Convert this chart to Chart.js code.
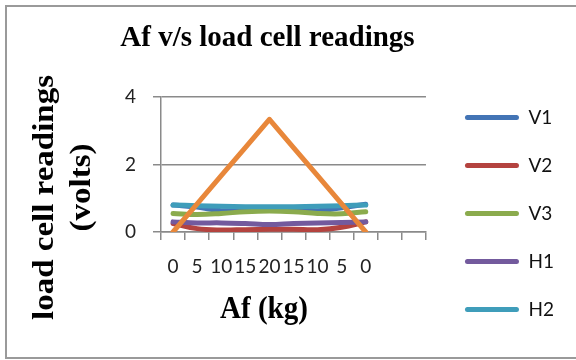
<!DOCTYPE html>
<html>
<head>
<meta charset="utf-8">
<script src="https://cdn.jsdelivr.net/npm/chart.js@4/dist/chart.umd.min.js"></script>
<style>
html,body{margin:0;padding:0;background:#fff;}
#wrap{width:576px;height:360px;position:relative;}
</style>
</head>
<body>
<div id="wrap"><canvas id="c" width="576" height="360"></canvas></div>
<script>
// ---- data ----
const categories = ["0", "5", "10", "15", "20", "15", "10", "5", "0", "", ""];
const seriesNames = ["V1", "V2", "V3", "H1", "H2", "H3"];
const V1 = [0.80, 0.74, 0.63, 0.66, 0.70, 0.68, 0.63, 0.72, 0.82];
const V2 = [0.25, 0.10, 0.06, 0.07, 0.08, 0.08, 0.07, 0.14, 0.30];
const V3 = [0.55, 0.52, 0.55, 0.60, 0.62, 0.60, 0.55, 0.54, 0.60];
const H1 = [0.30, 0.27, 0.27, 0.25, 0.22, 0.25, 0.27, 0.28, 0.30];
const H2 = [0.80, 0.78, 0.76, 0.75, 0.75, 0.75, 0.76, 0.78, 0.80];
const H3 = [0.00, 0.83, 1.67, 2.50, 3.34, 2.50, 1.67, 0.83, 0.00];
const yTicks = [0, 2, 4];
const chartTitle = "Af v/s load cell readings";
const xTitle = "Af (kg)";
const yTitleLines = ["load cell readings", "(volts)"];

// ---- styles ----
const colors = ["#4374b5", "#b4433f", "#8bab4d", "#735a9d", "#3f9dba", "#e8873a"];
const values = [V1, V2, V3, H1, H2, H3];
const tickFont = {family: "Lato", size: 19};
const gridColor = "#8a8a8a";

// later series are drawn on top (as in the original)
const datasets = values.map((v, i) => ({
  label: seriesNames[i],
  data: v,
  order: values.length - 1 - i,
  borderColor: colors[i],
  backgroundColor: colors[i],
  borderWidth: 5,
  pointRadius: 0,
  pointHoverRadius: 0,
  tension: i === 5 ? 0 : 0.4,
  borderCapStyle: "round",
  borderJoinStyle: "round",
  fill: false
}));

const decor = {
  id: "decor",
  beforeDraw(chart) {
    const ctx = chart.ctx;
    ctx.save();
    ctx.fillStyle = "#ffffff";
    ctx.fillRect(0, 0, chart.width, chart.height);
    ctx.strokeStyle = "#9a9a9a";
    ctx.lineWidth = 2;
    ctx.strokeRect(6, 6, chart.width + 20, chart.height - 8);
    ctx.restore();
  },
  afterDraw(chart) {
    const ctx = chart.ctx;
    ctx.save();
    ctx.fillStyle = "#000000";
    ctx.textAlign = "center";
    ctx.textBaseline = "alphabetic";
    // x title
    ctx.font = "bold 31px 'Liberation Serif'";
    const w = ctx.measureText(xTitle).width;
    ctx.save();
    ctx.translate(264, 318);
    ctx.scale(88 / w, 1);
    ctx.fillText(xTitle, 0, 0);
    ctx.restore();
    // y title (two lines)
    ctx.font = "bold 33px 'Liberation Serif'";
    const yPos = [{bx: 53, cy: 197.5}, {bx: 90, cy: 187.5}];
    yTitleLines.forEach((t, i) => {
      ctx.save();
      ctx.translate(yPos[i].bx, yPos[i].cy);
      ctx.rotate(-Math.PI / 2);
      ctx.scale(1, 0.88);
      ctx.fillText(t, 0, 0);
      ctx.restore();
    });
    ctx.restore();
  }
};

new Chart(document.getElementById("c"), {
  type: "line",
  data: {labels: categories, datasets: datasets},
  options: {
    responsive: false,
    animation: false,
    devicePixelRatio: 1,
    layout: {padding: {left: -29, top: 8, right: 12, bottom: 12}},
    plugins: {
      title: {
        display: true,
        text: chartTitle,
        color: "#000000",
        font: {family: "Liberation Serif", size: 29, weight: "bold", lineHeight: 1.2},
        padding: {top: 12.8, bottom: 41.4}
      },
      tooltip: {enabled: false},
      legend: {
        display: true,
        position: "right",
        align: "end",
        reverse: true,
        maxWidth: 220,
        labels: {
          font: {family: "Lato", size: 19},
          color: "#111111",
          boxWidth: 54,
          boxHeight: 5,
          padding: 29,
          useBorderRadius: true,
          borderRadius: 2.5,
          filter: (item) => item.text !== "H3",
          generateLabels(chart) {
            const items = Chart.defaults.plugins.legend.labels.generateLabels(chart);
            items.forEach(it => { it.lineWidth = 0; it.fillStyle = it.strokeStyle; });
            return items;
          }
        }
      }
    },
    scales: {
      x: {
        type: "category",
        offset: true,
        grid: {
          offset: true,
          drawOnChartArea: false,
          drawTicks: true,
          tickLength: 8,
          color: gridColor,
          lineWidth: 1.5
        },
        border: {display: true, color: gridColor, width: 1.5},
        ticks: {
          autoSkip: false,
          maxRotation: 0,
          minRotation: 0,
          padding: 15,
          font: tickFont,
          color: "#222222"
        },
        afterFit(s) { s.height = 116; }
      },
      y: {
        type: "linear",
        min: 0,
        max: 4,
        afterBuildTicks(s) { s.ticks = yTicks.map(v => ({value: v})); },
        grid: {
          drawTicks: true,
          tickLength: 8,
          color: gridColor,
          lineWidth: 1.5
        },
        border: {display: true, color: gridColor, width: 1.5},
        ticks: {
          padding: 17,
          font: tickFont,
          color: "#222222"
        },
        afterFit(s) { s.width = 190; }
      },
      spacer: {
        type: "linear",
        position: "right",
        display: true,
        grid: {display: false, drawTicks: false},
        border: {display: false},
        ticks: {display: false},
        afterFit(s) { s.width = 10; }
      }
    }
  },
  plugins: [decor]
});
</script>
</body>
</html>
